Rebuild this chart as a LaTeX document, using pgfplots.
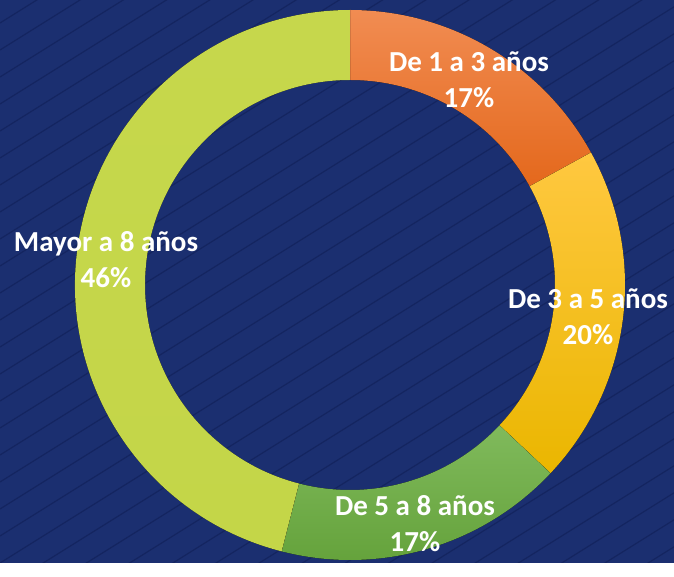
\documentclass[border=0pt]{standalone}
\usepackage{pgfplots}
\usepackage{pgfplotstable}
\pgfplotsset{compat=1.18}
\usepackage{fontspec}
\setmainfont{Carlito}

\definecolor{bgblue}{RGB}{27,47,112}
\definecolor{stripe}{RGB}{20,37,96}
\definecolor{orgtop}{RGB}{241,140,82}
\definecolor{orgbot}{RGB}{228,104,28}
\definecolor{yeltop}{RGB}{255,200,64}
\definecolor{yelbot}{RGB}{234,182,0}
\definecolor{grntop}{RGB}{128,186,92}
\definecolor{grnbot}{RGB}{98,160,56}
\definecolor{limtop}{RGB}{198,215,76}
\definecolor{limbot}{RGB}{196,214,72}

% share of each group, label position (px, measured from bottom)
\pgfplotstableread[col sep=comma]{
label,pct,lx,ly,ctop,cbot
De 1 a 3 años,17,469,483,orgtop,orgbot
De 3 a 5 años,20,588,246,yeltop,yelbot
De 5 a 8 años,17,415,39,grntop,grnbot
Mayor a 8 años,46,106,303,limtop,limbot
}\donut

\begin{document}
\begin{tikzpicture}
\fill[bgblue] (0,0) rectangle (674bp,563bp);
\begin{scope}
\clip (0,0) rectangle (674bp,563bp);
\foreach \k in {-17,...,21}
  \draw[stripe, line width=1.2bp] (0,\k*27bp) -- ++(32:1300bp);
\end{scope}

\begin{axis}[
    hide axis,
    scale only axis,
    width=674bp,
    height=563bp,
    xmin=0, xmax=674,
    ymin=0, ymax=563,
    clip=false
]
\pgfplotstablegetrowsof{\donut}
\pgfmathtruncatemacro\nrows{\pgfplotsretval-1}
\def\angstart{90}
\pgfplotsforeachungrouped \i in {0,...,\nrows}{%
  \pgfplotstablegetelem{\i}{pct}\of\donut \let\pct\pgfplotsretval
  \pgfplotstablegetelem{\i}{ctop}\of\donut \let\ctop\pgfplotsretval
  \pgfplotstablegetelem{\i}{cbot}\of\donut \let\cbot\pgfplotsretval
  \pgfmathsetmacro\angend{\angstart-3.6*\pct}
  \edef\cmd{\noexpand\fill[top color=\ctop, bottom color=\cbot,
      shift={(axis cs:350,278)}]
    (\angstart:275bp) arc[start angle=\angstart, end angle=\angend, radius=275bp]
    -- (\angend:205bp) arc[start angle=\angend, end angle=\angstart, radius=205bp]
    -- cycle;}
  \cmd
  \let\angstart\angend
}
\pgfplotsforeachungrouped \i in {0,...,\nrows}{%
  \pgfplotstablegetelem{\i}{label}\of\donut \let\lab\pgfplotsretval
  \pgfplotstablegetelem{\i}{pct}\of\donut \let\pct\pgfplotsretval
  \pgfplotstablegetelem{\i}{lx}\of\donut \let\lx\pgfplotsretval
  \pgfplotstablegetelem{\i}{ly}\of\donut \let\ly\pgfplotsretval
  \edef\cmd{\noexpand\node[text=white, align=center, inner sep=0pt,
      font=\noexpand\fontsize{29bp}{36bp}\noexpand\selectfont\noexpand\bfseries]
    at (axis cs:\lx,\ly) {\lab\noexpand\\\pct\noexpand\%};}
  \cmd
}
\end{axis}
\end{tikzpicture}
\end{document}
